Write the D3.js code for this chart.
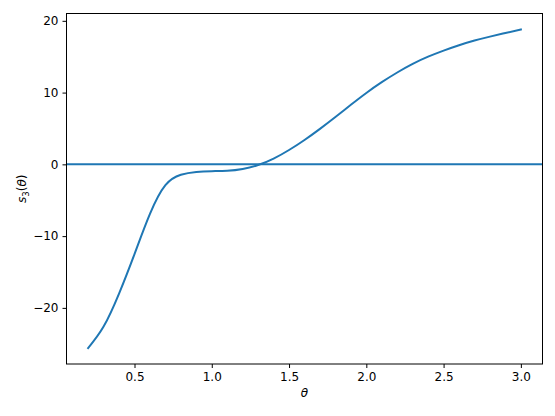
<!DOCTYPE html>
<html>
<head>
<meta charset="utf-8">
<script src="https://cdn.jsdelivr.net/npm/d3@7"></script>
<style>
  body { margin: 0; background: #fff; }
  .axis text { font-family: "DejaVu Sans", sans-serif; font-size: 12px; fill: #000; }
  .axis path, .axis line { stroke: #000; stroke-width: 1; }
</style>
</head>
<body>
<div id="chart"></div>
<script>
// theta samples and s3(theta)
var theta = [0.2, 0.3, 0.4, 0.5, 0.6, 0.7, 0.8, 0.9, 1.0, 1.1, 1.2, 1.3, 1.4, 1.5,
             1.6, 1.7, 1.8, 1.9, 2.0, 2.1, 2.2, 2.3, 2.4, 2.5, 2.6, 2.7, 2.8, 2.9, 3.0];
var s3 = [-25.6, -22.6, -18.0, -12.5, -6.9, -2.9, -1.45, -1.05, -0.95, -0.9, -0.65, -0.1, 0.8, 2.0,
          3.4, 4.95, 6.6, 8.3, 9.95, 11.45, 12.8, 14.0, 15.0, 15.85, 16.6, 17.25, 17.8, 18.3, 18.8];
var xTicks = [0.5, 1.0, 1.5, 2.0, 2.5, 3.0];
var yTicks = [-20, -10, 0, 10, 20];
var hline = 0;

var W = 555, H = 416;
var margin = {top: 13.5, right: 12.5, bottom: 52, left: 66.5},
    width = W - margin.left - margin.right,
    height = H - margin.top - margin.bottom;

var svg = d3.select("#chart").append("svg")
    .attr("width", W)
    .attr("height", H);

var g = svg.append("g")
    .attr("transform", "translate(" + margin.left + "," + margin.top + ")");

// matplotlib style 5% margins
var xmin = d3.min(theta), xmax = d3.max(theta),
    ymin = d3.min(s3), ymax = d3.max(s3);
var xpad = (xmax - xmin) * 0.05, ypad = (ymax - ymin) * 0.05;

var x = d3.scaleLinear().domain([xmin - xpad, xmax + xpad]).range([0, width]);
var y = d3.scaleLinear().domain([ymin - ypad, ymax + ypad]).range([height, 0]);

var data = theta.map(function(t, i) { return {t: t, v: s3[i]}; });

g.append("line")
    .attr("x1", 0).attr("x2", width)
    .attr("y1", y(hline)).attr("y2", y(hline))
    .attr("stroke", "#1f77b4")
    .attr("stroke-width", 2);

var line = d3.line()
    .x(function(d) { return x(d.t); })
    .y(function(d) { return y(d.v); })
    .curve(d3.curveNatural);

g.append("path")
    .datum(data)
    .attr("fill", "none")
    .attr("stroke", "#1f77b4")
    .attr("stroke-width", 2)
    .attr("stroke-linecap", "square")
    .attr("d", line);

g.append("g")
    .attr("class", "x axis")
    .attr("transform", "translate(0," + height + ")")
    .call(d3.axisBottom(x).tickValues(xTicks).tickSize(4).tickPadding(4)
      .tickFormat(d3.format(".1f")));

g.append("g")
    .attr("class", "y axis")
    .call(d3.axisLeft(y).tickValues(yTicks).tickSize(4).tickPadding(4)
      .tickFormat(function(d) { return d < 0 ? "\u2212" + Math.abs(d) : d; }));

g.selectAll(".axis .domain").remove();

// frame
g.append("rect")
    .attr("x", 0).attr("y", 0)
    .attr("width", width).attr("height", height)
    .attr("fill", "none")
    .attr("stroke", "#000")
    .attr("stroke-width", 1);

// axis labels
svg.append("text")
    .attr("x", margin.left + width / 2)
    .attr("y", 397)
    .attr("text-anchor", "middle")
    .style("font-family", "DejaVu Sans, sans-serif")
    .style("font-size", "12px")
    .style("font-style", "italic")
    .text("\u03b8");

var yl = svg.append("text")
    .attr("transform", "translate(26," + (margin.top + height / 2) + ") rotate(-90)")
    .attr("text-anchor", "middle")
    .style("font-family", "DejaVu Sans, sans-serif")
    .style("font-size", "12px");
yl.append("tspan").style("font-style", "italic").text("s");
yl.append("tspan").attr("dy", 3).style("font-size", "8.5px").text("3");
yl.append("tspan").attr("dy", -3).text("(");
yl.append("tspan").style("font-style", "italic").text("\u03b8");
yl.append("tspan").text(")");
</script>
</body>
</html>
